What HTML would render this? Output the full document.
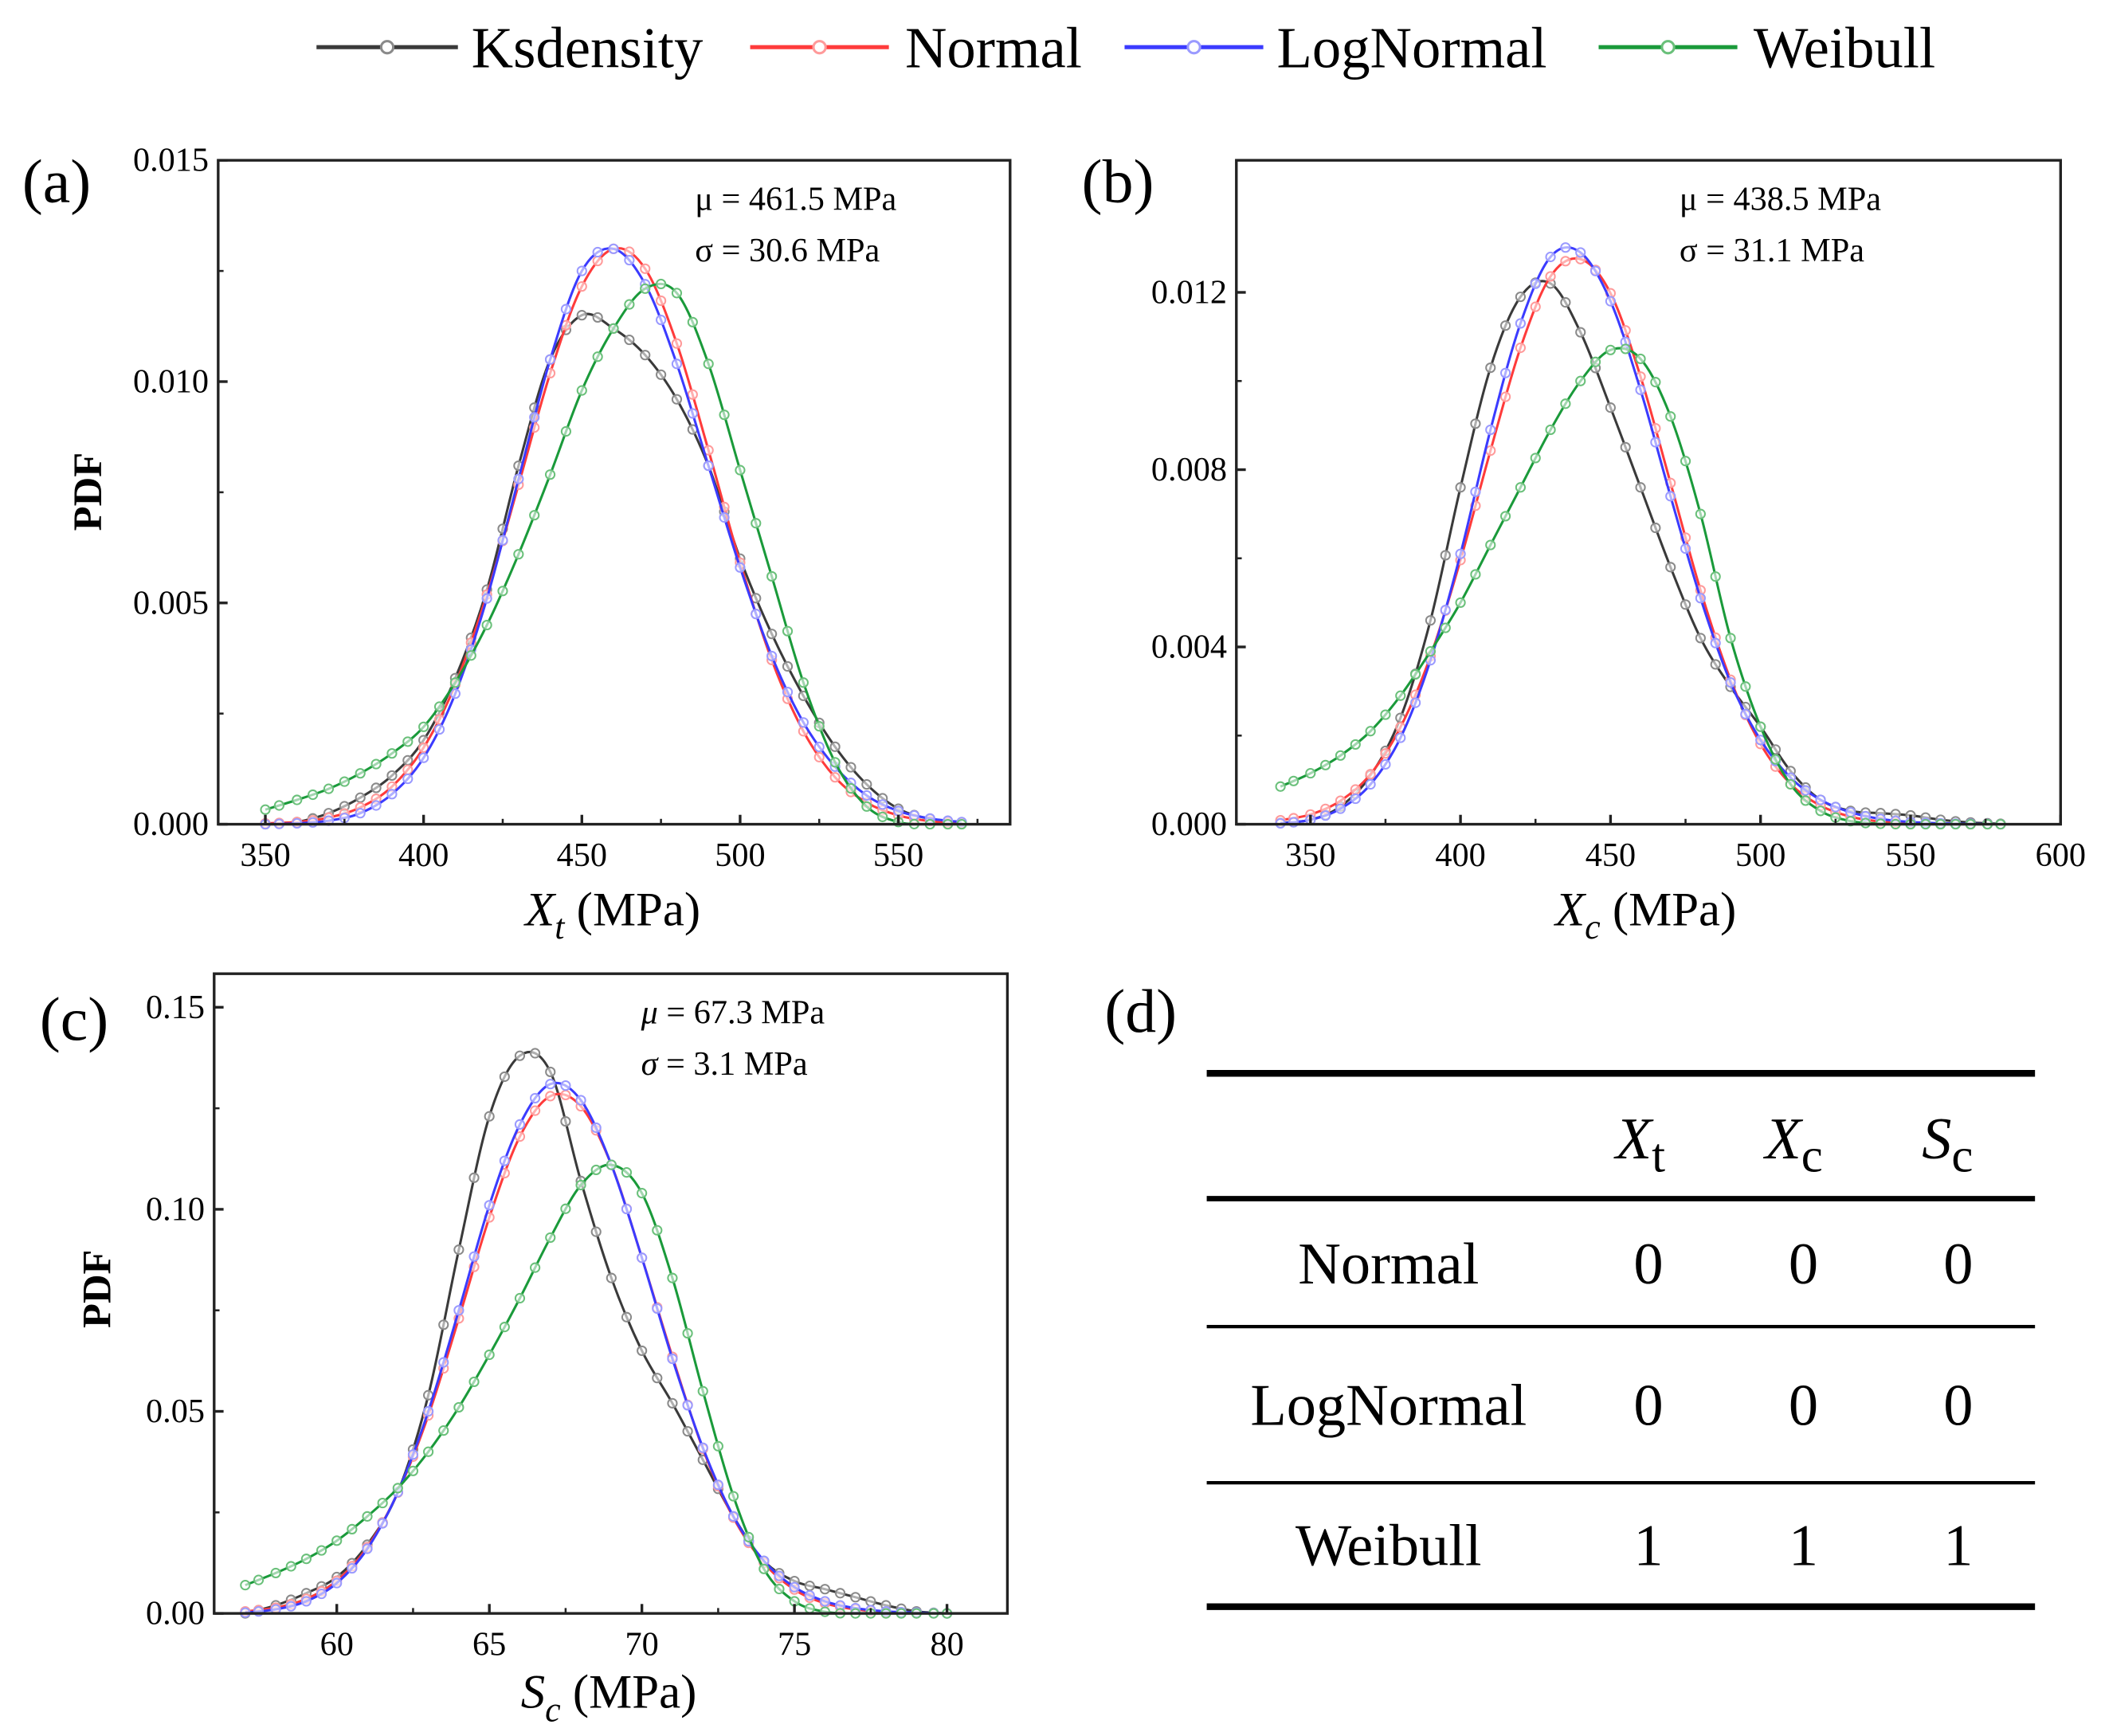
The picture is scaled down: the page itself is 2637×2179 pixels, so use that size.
<!DOCTYPE html>
<html><head><meta charset="utf-8"><style>
html,body{margin:0;padding:0;background:#fff;}
svg{display:block;font-family:"Liberation Serif",serif;}
</style></head><body>
<svg id="fig" width="2637" height="2179" viewBox="0 0 1560 1289" xmlns="http://www.w3.org/2000/svg">
<g id="legend"></g>
<g id="pa"></g>
<g id="pb"></g>
<g id="pc"></g>
<g id="pd">
<text x="847" y="766" font-size="46" text-anchor="middle">(d)</text>
<line x1="896" x2="1511" y1="797" y2="797" stroke="#000" stroke-width="5"/>
<line x1="896" x2="1511" y1="890" y2="890" stroke="#000" stroke-width="4"/>
<line x1="896" x2="1511" y1="985" y2="985" stroke="#000" stroke-width="2.5"/>
<line x1="896" x2="1511" y1="1101" y2="1101" stroke="#000" stroke-width="2.5"/>
<line x1="896" x2="1511" y1="1193" y2="1193" stroke="#000" stroke-width="5"/>
<text x="1218" y="860" font-size="44" font-style="italic" text-anchor="middle">X<tspan font-style="normal" font-size="36" dy="10">t</tspan></text>
<text x="1332" y="860" font-size="44" font-style="italic" text-anchor="middle">X<tspan font-style="normal" font-size="36" dy="10">c</tspan></text>
<text x="1446" y="860" font-size="44" font-style="italic" text-anchor="middle">S<tspan font-style="normal" font-size="36" dy="10">c</tspan></text>
<g font-size="44" text-anchor="middle">
<text x="1031" y="953">Normal</text>
<text x="1224" y="953">0</text><text x="1339" y="953">0</text><text x="1454" y="953">0</text>
<text x="1031" y="1058">LogNormal</text>
<text x="1224" y="1058">0</text><text x="1339" y="1058">0</text><text x="1454" y="1058">0</text>
<text x="1031" y="1162">Weibull</text>
<text x="1224" y="1162">1</text><text x="1339" y="1162">1</text><text x="1454" y="1162">1</text>
</g>
</g>
</svg>
<script>
// ---- data ----
const seriesNames = ["Ksdensity","Normal","LogNormal","Weibull"];
const aX = [350,360,370,380,390,400,410,420,430,440,450,460,470,480,490,500,510,520,530,540,550,560,570];
const aKs = [0,0.05,0.25,0.6,1.1,1.9,3.3,5.3,8.1,10.5,11.5,11.2,10.6,9.6,8.1,6.0,4.3,2.9,1.75,0.9,0.35,0.12,0.03];
const aNorm = [0.02,0.05,0.15,0.38,0.85,1.73,3.15,5.19,7.67,10.19,12.15,13.0,12.55,10.86,8.45,5.91,3.71,2.10,1.06,0.49,0.20,0.07,0.02];
const aLog = [0,0.02,0.08,0.25,0.68,1.5,2.95,5.1,7.8,10.5,12.5,13.0,12.2,10.4,8.1,5.8,3.8,2.3,1.3,0.65,0.3,0.13,0.05];
const aWei = [0.33,0.55,0.8,1.15,1.6,2.2,3.2,4.5,6.1,7.9,9.8,11.2,12.1,12.0,10.4,8.0,5.6,3.2,1.4,0.4,0.05,0,0];
const aYTicks = [0,0.005,0.010,0.015];
const aYLabels = ["0.000","0.005","0.010","0.015"];
const aXTicks = [350,400,450,500,550];

const bX = [340,350,360,370,380,390,400,410,420,430,440,450,460,470,480,490,500,510,520,530,540,550,560,570,580];
const bKs = [0.03,0.1,0.4,1.1,2.4,4.6,7.6,10.3,11.9,12.2,11.1,9.4,7.6,5.8,4.2,3.1,2.2,1.2,0.55,0.3,0.25,0.2,0.1,0.04,0.01];
const bNorm = [0.09,0.22,0.53,1.13,2.19,3.79,5.96,8.43,10.75,12.36,12.75,11.98,10.1,7.7,5.28,3.26,1.81,0.91,0.42,0.17,0.06,0.02,0.01,0,0];
const bLog = [0.02,0.1,0.35,0.9,1.95,3.7,6.1,8.9,11.3,12.8,12.9,11.8,9.8,7.4,5.1,3.2,1.9,1.05,0.55,0.27,0.12,0.05,0.02,0.01,0];
const bWei = [0.85,1.15,1.55,2.1,2.9,3.9,5.0,6.3,7.6,8.9,10.0,10.7,10.5,9.2,7.0,4.2,2.2,0.9,0.3,0.07,0.01,0,0,0,0];
const bYTicks = [0,0.004,0.008,0.012];
const bYLabels = ["0.000","0.004","0.008","0.012"];
const bXTicks = [350,400,450,500,550,600];

const cX = [57,58,59,60,61,62,63,64,65,66,67,68,69,70,71,72,73,74,75,76,77,78,79,80];
const cKs = [0,0.002,0.005,0.009,0.017,0.030,0.054,0.090,0.123,0.138,0.134,0.107,0.083,0.065,0.052,0.038,0.024,0.013,0.008,0.006,0.004,0.002,0.0005,0];
const cNorm = [0.0005,0.0014,0.0036,0.0081,0.0164,0.0299,0.049,0.073,0.098,0.118,0.128,0.1255,0.111,0.088,0.0635,0.0407,0.0237,0.0125,0.0059,0.0025,0.001,0.0003,0.0001,0];
const cLog = [0.0002,0.001,0.003,0.0075,0.016,0.030,0.050,0.075,0.101,0.121,0.131,0.127,0.111,0.088,0.063,0.041,0.024,0.013,0.0065,0.003,0.0013,0.0005,0.0002,0];
const cWei = [0.007,0.010,0.0135,0.018,0.024,0.031,0.040,0.051,0.064,0.078,0.093,0.106,0.111,0.104,0.083,0.055,0.029,0.011,0.003,0.0004,0,0,0,0];
const cYTicks = [0,0.05,0.10,0.15];
const cYLabels = ["0.00","0.05","0.10","0.15"];
const cXTicks = [60,65,70,75,80];

const lineColors = ["#3a3a3a","#ff3b3b","#3b3bff","#1a9a3a"];
const markColors = ["#8a8a8a","#ff9a9a","#9a9aff","#6ac07a"];
// ---- drawing ----
const NS="http://www.w3.org/2000/svg";
function mk(tag,attrs,parent){const e=document.createElementNS(NS,tag);for(const k in attrs)e.setAttribute(k,attrs[k]);parent.appendChild(e);return e;}
function segs(pts){const out=[];for(let i=0;i<pts.length-1;i++){const p0=pts[Math.max(0,i-1)],p1=pts[i],p2=pts[i+1],p3=pts[Math.min(pts.length-1,i+2)];const c1=[p1[0]+(p2[0]-p0[0])/6,p1[1]+(p2[1]-p0[1])/6],c2=[p2[0]-(p3[0]-p1[0])/6,p2[1]-(p3[1]-p1[1])/6];out.push([p1,c1,c2,p2]);}return out;}
function smooth(pts){let d="M"+pts[0][0]+","+pts[0][1];segs(pts).forEach(s=>{d+=" C"+s[1]+" "+s[2]+" "+s[3];});return d;}
function mid(s){return [(s[0][0]+3*s[1][0]+3*s[2][0]+s[3][0])/8,(s[0][1]+3*s[1][1]+3*s[2][1]+s[3][1])/8];}

function panel(gid,cfg){
  const g=document.getElementById(gid);
  const {L,R,T,B,x0,x1,y0,y1}=cfg;
  const sx=v=>L+(v-x0)/(x1-x0)*(R-L);
  const sy=v=>B-(v-y0)/(y1-y0)*(B-T);
  const clip="clip-"+gid;
  const cp=mk("clipPath",{id:clip},g);mk("rect",{x:L,y:T,width:R-L,height:B-T},cp);
  cfg.series.forEach((vals,si)=>{
    const pts=cfg.xs.map((x,i)=>[sx(x),Math.min(B,sy(vals[i]*cfg.scale))]);
    const p=mk("path",{d:smooth(pts),fill:"none",stroke:lineColors[si],"stroke-width":1.8,"clip-path":"url(#"+clip+")"},g);
    
    
    const mpts=[];segs(pts).forEach(s=>{mpts.push(s[0]);mpts.push(mid(s));});mpts.push(pts[pts.length-1]);
    mpts.forEach(pt=>{
      const c=mk("circle",{cx:pt[0],cy:Math.min(B,pt[1]),r:3.3,fill:"#fff","fill-opacity":0.6,stroke:markColors[si],"stroke-width":1.2},g);
      
      
    });
  });
  const fr=mk("rect",{x:L,y:T,width:R-L,height:B-T,fill:"none",stroke:"#222","stroke-width":2},g);
  
  
  cfg.yt.forEach((v,i)=>{
    mk("line",{x1:L,x2:L+7,y1:sy(v),y2:sy(v),stroke:"#222","stroke-width":2},g);
    if(i<cfg.yt.length-1){const m=(v+cfg.yt[i+1])/2;mk("line",{x1:L,x2:L+4,y1:sy(m),y2:sy(m),stroke:"#222","stroke-width":1.5},g);}
    const t=mk("text",{x:L-7,y:sy(v)+8,"font-size":25,"text-anchor":"end"},g);t.textContent=cfg.yl[i];
    
    
  });
  cfg.xt.forEach((v,i)=>{
    mk("line",{x1:sx(v),x2:sx(v),y1:B,y2:B-7,stroke:"#222","stroke-width":2},g);
    const m=v+(cfg.xt[1]-cfg.xt[0])/2; if(sx(m)<R) mk("line",{x1:sx(m),x2:sx(m),y1:B,y2:B-4,stroke:"#222","stroke-width":1.5},g);
    const t=mk("text",{x:sx(v),y:B+31,"font-size":25,"text-anchor":"middle"},g);t.textContent=String(v);
    
    
  });
}
panel("pa",{L:162,R:750,T:119,B:612,x0:335.1,x1:585.3,y0:0,y1:0.015,scale:0.001,xs:aX,series:[aKs,aNorm,aLog,aWei],yt:aYTicks,yl:aYLabels,xt:aXTicks});
panel("pb",{L:918,R:1530,T:119,B:612,x0:325.3,x1:600,y0:0,y1:0.01498,scale:0.001,xs:bX,series:[bKs,bNorm,bLog,bWei],yt:bYTicks,yl:bYLabels,xt:bXTicks});
panel("pc",{L:159,R:748,T:723,B:1198,x0:55.98,x1:81.98,y0:0,y1:0.1583,scale:1,xs:cX,series:[cKs,cNorm,cLog,cWei],yt:cYTicks,yl:cYLabels,xt:cXTicks});

// legend
const lg=document.getElementById("legend");
const legX=[[235,340,350],[557,660,672],[835,938,948],[1187,1290,1302]];
seriesNames.forEach((n,i)=>{
  const [a,b,tx]=legX[i];
  const e=mk("g",{},lg);
  
  
  mk("line",{x1:a,x2:b,y1:35,y2:35,stroke:lineColors[i],"stroke-width":3},e);
  mk("circle",{cx:(a+b)/2,cy:35,r:4.5,fill:"#fff",stroke:markColors[i],"stroke-width":1.8},e);
  const t=mk("text",{x:tx,y:50,"font-size":43},e);t.textContent=n;
});
// annotations
function txt(parent,x,y,s,size,name,extra){const t=mk("text",Object.assign({x:x,y:y,"font-size":size},extra||{}),document.getElementById(parent));t.innerHTML=s;

return t;}
txt("pa",42,150,"(a)",46,"panel-label-a",{"text-anchor":"middle"});
txt("pa",516,156,"μ = 461.5 MPa",25,"mean-annotation");
txt("pa",516,194,"σ = 30.6 MPa",25,"sd-annotation");
txt("pa",75,365,"PDF",30,"y-axis-title",{"text-anchor":"middle","font-weight":"bold",transform:"rotate(-90 75 365)"});
txt("pa",455,687,'<tspan font-style="italic">X</tspan><tspan font-style="italic" font-size="26" dy="10">t</tspan><tspan dy="-10"> (MPa)</tspan>',36,"x-axis-title",{"text-anchor":"middle"});
txt("pb",830,150,"(b)",46,"panel-label-b",{"text-anchor":"middle"});
txt("pb",1247,156,"μ = 438.5 MPa",25,"mean-annotation");
txt("pb",1247,194,"σ = 31.1 MPa",25,"sd-annotation");
txt("pb",1222,687,'<tspan font-style="italic">X</tspan><tspan font-style="italic" font-size="26" dy="10">c</tspan><tspan dy="-10"> (MPa)</tspan>',36,"x-axis-title",{"text-anchor":"middle"});
txt("pc",55,772,"(c)",46,"panel-label-c",{"text-anchor":"middle"});
txt("pc",476,760,'<tspan font-style="italic">μ</tspan> = 67.3 MPa',25,"mean-annotation");
txt("pc",476,798,'<tspan font-style="italic">σ</tspan> = 3.1 MPa',25,"sd-annotation");
txt("pc",82,957,"PDF",30,"y-axis-title",{"text-anchor":"middle","font-weight":"bold",transform:"rotate(-90 82 957)"});
txt("pc",452,1268,'<tspan font-style="italic">S</tspan><tspan font-style="italic" font-size="26" dy="10">c</tspan><tspan dy="-10"> (MPa)</tspan>',36,"x-axis-title",{"text-anchor":"middle"});
</script>
</body></html>
